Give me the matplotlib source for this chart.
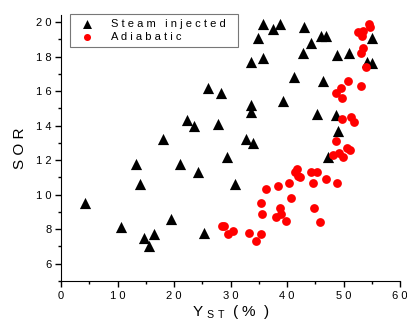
import matplotlib.pyplot as plt
from matplotlib.ticker import MultipleLocator

plt.rcParams['font.family'] = ['Liberation Sans', 'DejaVu Sans']
plt.rcParams['mathtext.default'] = 'regular'

# steam injected (triangles)
steam_x = [4.2, 10.6, 13.3, 14.0, 14.7, 15.6, 16.5, 18.1, 19.5, 21.1, 22.3, 23.5,
           24.2, 25.3, 26.0, 27.8, 28.3, 29.4, 30.8, 32.7, 33.6, 33.6, 33.6, 34.0,
           34.9, 35.8, 35.8, 37.5, 38.8, 39.3, 41.2, 42.8, 43.0, 44.2, 45.3, 46.0,
           46.9, 46.4, 47.3, 48.7, 48.8, 49.0, 51.0, 54.2, 55.0, 55.0]
steam_y = [9.5, 8.1, 11.8, 10.6, 7.5, 7.0, 7.7, 13.2, 8.6, 11.8, 14.3, 14.0,
           11.3, 7.8, 16.2, 14.1, 15.9, 12.2, 10.6, 13.2, 17.7, 15.2, 14.8, 13.0,
           19.1, 19.9, 17.9, 19.6, 19.9, 15.4, 16.8, 18.2, 19.7, 18.8, 14.7, 19.2,
           19.2, 16.6, 12.2, 14.6, 18.1, 13.7, 18.2, 17.7, 19.1, 17.6]

# adiabatic (circles)
adia_x = [28.5, 28.8, 29.6, 30.4, 33.3, 34.5, 35.4, 35.4, 35.6, 36.3, 38.1, 38.4,
          38.8, 38.9, 39.8, 40.4, 40.7, 41.4, 41.7, 41.9, 42.3, 44.2, 44.6, 44.8,
          45.3, 45.8, 46.9, 48.1, 48.7, 48.7, 48.8, 49.2, 49.6, 49.7, 49.7, 49.9,
          50.6, 50.8, 51.1, 51.3, 51.9, 52.6, 53.1, 53.1, 53.3, 53.5, 53.5, 54.0,
          54.5, 54.7]
adia_y = [8.2, 8.2, 7.7, 7.9, 7.8, 7.3, 7.7, 9.5, 8.9, 10.3, 8.7, 10.5,
          9.2, 8.9, 8.5, 10.7, 9.8, 11.3, 11.5, 11.1, 11.0, 11.3, 10.7, 9.2,
          11.3, 8.4, 10.9, 12.3, 13.1, 15.9, 10.7, 12.4, 16.2, 15.6, 14.4, 12.2,
          12.7, 16.6, 12.6, 14.5, 14.2, 19.4, 18.2, 16.3, 19.2, 19.5, 18.5, 17.4,
          19.9, 19.7]

fig = plt.figure(figsize=(4.07, 3.27), dpi=100)
ax = fig.add_axes([0.150, 0.1407, 0.833, 0.813])

ax.scatter(steam_x, steam_y, marker='^', s=65, color='black', linewidths=0,
           label='S t e a m   i n j e c t e d  ')
ax.scatter(adia_x, adia_y, marker='o', s=40, color='#ff0000', linewidths=0,
           label='A d i a b a t i c')

ax.set_xlim(0, 60)
ax.set_ylim(5, 20.4)
ax.xaxis.set_minor_locator(MultipleLocator(5))
ax.yaxis.set_minor_locator(MultipleLocator(1))
ax.set_xticks(range(0, 61, 10))
ax.set_xticklabels([' '.join(str(v)) for v in range(0, 61, 10)])
ax.set_yticks(range(6, 21, 2))
ax.set_yticklabels([' '.join(str(v)) for v in range(6, 21, 2)])

ax.spines['top'].set_visible(False)
ax.spines['right'].set_visible(False)
ax.tick_params(which='major', length=4, width=1, labelsize=8, direction='out', pad=3)
ax.tick_params(which='minor', length=2.5, width=1, direction='out')

ax.set_xlabel(r'Y $_{S\ T}$  ( %  )', fontsize=11, labelpad=2)
ax.set_ylabel('S O R', fontsize=11, labelpad=6)

leg = ax.legend(loc='upper left', bbox_to_anchor=(0.027, 1.005), fontsize=8,
                frameon=True, fancybox=False, borderpad=0.5, handletextpad=1.2,
                labelspacing=0.2, borderaxespad=0, markerscale=0.8)
leg.get_frame().set_edgecolor('#555555')
leg.get_frame().set_linewidth(0.8)

fig.savefig('out.png', dpi=100)
